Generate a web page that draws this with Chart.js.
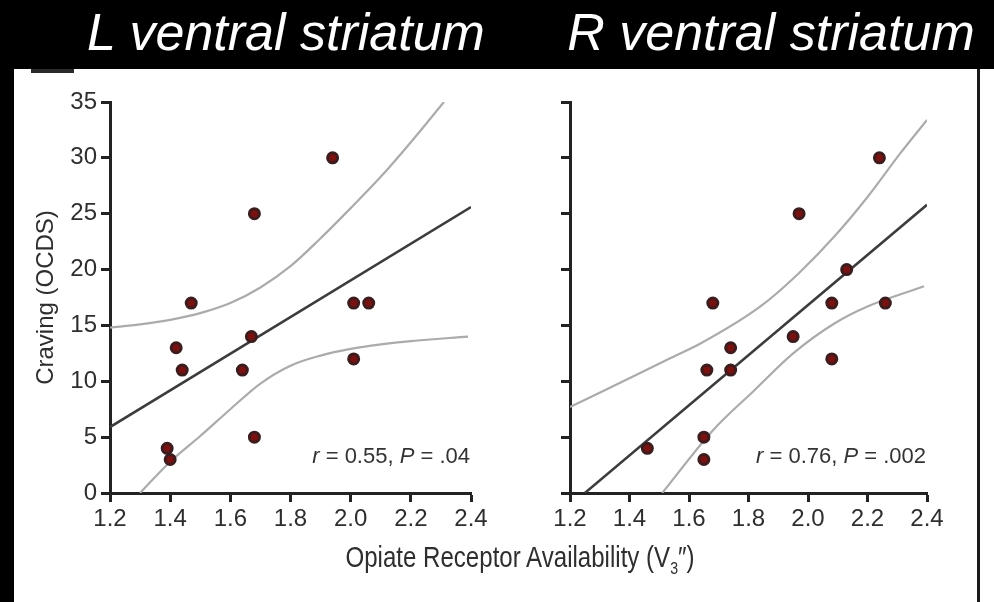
<!DOCTYPE html>
<html>
<head>
<meta charset="utf-8">
<script src="https://cdn.jsdelivr.net/npm/chart.js@4.4.1/dist/chart.umd.min.js"></script>
<style>
  body { margin: 0; background: #000; width: 994px; height: 602px; overflow: hidden; position: relative; }
  #panel { position: absolute; left: 14px; top: 69px; width: 980px; height: 533px; background: #fff; }
  .title { position: absolute; top: 6px; width: 460px; margin-left: -230px; text-align: center;
           font: italic 52px/52px 'Liberation Sans', Arial, sans-serif; color: #fff; white-space: nowrap; }
  #bar { position: absolute; left: 31px; top: 69px; width: 43px; height: 4px; background: #2a2a2a; }
  #edge { position: absolute; left: 977px; top: 69px; width: 3px; height: 533px; background: #1a1a1a; }
  .cv { position: absolute; top: 69px; height: 533px; }
  #xlabel { position: absolute; left: 520px; top: 560px; transform: translate(-50%, -50%) scaleX(0.83); white-space: nowrap;
            font: 29px 'Liberation Sans', Arial, sans-serif; color: #2e2e2e; }
  #xlabel sub { font-size: 17px; }
</style>
</head>
<body>
<div id="panel"></div>
<div id="bar"></div>
<div id="edge"></div>
<div class="title" style="left:286px">L ventral striatum</div>
<div class="title" style="left:771px">R ventral striatum</div>
<div class="cv" style="left:14px;width:483px"><canvas id="leftChart"></canvas></div>
<div class="cv" style="left:497px;width:480px"><canvas id="rightChart"></canvas></div>
<div id="xlabel">Opiate Receptor Availability (V<sub>3</sub>″)</div>
<script>
// Values

const xTicks = [1.2, 1.4, 1.6, 1.8, 2.0, 2.2, 2.4];
const yTicks = [0, 5, 10, 15, 20, 25, 30, 35];

// L ventral striatum
const leftX = [1.94, 1.68, 1.47, 2.01, 2.06, 1.42, 1.67, 1.44, 1.64, 2.01, 1.68, 1.39, 1.40];
const leftY = [30, 25, 17, 17, 17, 13, 14, 11, 11, 12, 5, 4, 3];
const leftFitX = [1.2, 2.4];
const leftFitY = [5.9, 25.6];
const leftUpperX = [1.2, 1.3, 1.4, 1.5, 1.6, 1.7, 1.8, 1.9, 2.0, 2.1, 2.2, 2.31];
const leftUpperY = [14.8, 15.1, 15.5, 16.1, 17.0, 18.4, 20.3, 22.8, 25.5, 28.3, 31.4, 35];
const leftLowerX = [1.3, 1.4, 1.5, 1.6, 1.7, 1.8, 1.9, 2.0, 2.1, 2.2, 2.39];
const leftLowerY = [0, 2.8, 5.1, 7.5, 9.8, 11.4, 12.3, 12.9, 13.3, 13.6, 14.0];

// R ventral striatum
const rightX = [2.24, 1.97, 2.13, 1.68, 2.08, 2.26, 1.95, 1.74, 1.66, 1.74, 2.08, 1.65, 1.65, 1.46];
const rightY = [30, 25, 20, 17, 17, 17, 14, 13, 11, 11, 12, 5, 3, 4];
const rightFitX = [1.25, 2.4];
const rightFitY = [0, 25.8];
const rightUpperX = [1.2, 1.41, 1.54, 1.64, 1.84, 1.97, 2.09, 2.2, 2.31, 2.4];
const rightUpperY = [7.7, 10.4, 12.1, 13.4, 16.7, 19.7, 23.0, 26.5, 30.4, 33.4];
const rightLowerX = [1.51, 1.68, 1.82, 1.95, 2.09, 2.2, 2.39];
const rightLowerY = [0, 5.6, 9.2, 12.5, 15.2, 16.7, 18.5];

const leftStats = [['r', true], [' = 0.55, ', false], ['P', true], [' = .04', false]];
const rightStats = [['r', true], [' = 0.76, ', false], ['P', true], [' = .002', false]];

const FONT = "'Liberation Sans', Arial, sans-serif";

function pts(xs, ys) {
    return xs.map((x, i) => ({ x: x, y: ys[i] }));
}

// draws the r / P note in the lower right corner of the plot area
const statsPlugin = {
    id: 'stats',
    afterDatasetsDraw(chart, args, opts) {
        const ctx = chart.ctx;
        const area = chart.chartArea;
        ctx.save();
        ctx.fillStyle = '#333';
        ctx.textBaseline = 'middle';
        let total = 0;
        opts.parts.forEach(p => {
            ctx.font = (p[1] ? 'italic ' : '') + '22px ' + FONT;
            total += ctx.measureText(p[0]).width;
        });
        let x = area.right - 1 - total;
        opts.parts.forEach(p => {
            ctx.font = (p[1] ? 'italic ' : '') + '22px ' + FONT;
            ctx.fillText(p[0], x, area.bottom - 36);
            x += ctx.measureText(p[0]).width;
        });
        ctx.restore();
    }
};

function makeChart(id, xs, ys, fitX, fitY, upX, upY, loX, loY, stats, showYLabels, pad, yWidth) {
    const lineBase = { type: 'line', pointRadius: 0, fill: false, order: 1, cubicInterpolationMode: 'monotone' };
    return new Chart(document.getElementById(id), {
        type: 'scatter',
        data: {
            datasets: [
                {
                    data: pts(xs, ys),
                    pointStyle: 'circle',
                    pointRadius: 5,
                    backgroundColor: '#7a1111',
                    borderColor: '#3d1c1e',
                    borderWidth: 3,
                    order: 0
                },
                Object.assign({ data: pts(fitX, fitY), borderColor: '#3c3c3c', borderWidth: 2.5 }, lineBase),
                Object.assign({ data: pts(upX, upY), borderColor: '#ababab', borderWidth: 2.2 }, lineBase),
                Object.assign({ data: pts(loX, loY), borderColor: '#ababab', borderWidth: 2.2 }, lineBase)
            ]
        },
        options: {
            responsive: true,
            maintainAspectRatio: false,
            animation: false,
            layout: { padding: pad },
            plugins: {
                legend: { display: false },
                tooltip: { enabled: false },
                stats: { parts: stats }
            },
            scales: {
                x: {
                    type: 'linear',
                    min: xTicks[0],
                    max: xTicks[xTicks.length - 1],
                    afterBuildTicks: s => { s.ticks = xTicks.map(v => ({ value: v })); },
                    afterFit: s => { s.height = 109; },
                    border: { display: true, color: '#222', width: 3 },
                    grid: { drawOnChartArea: false, drawTicks: true, tickLength: 9, tickWidth: 3, tickColor: '#222' },
                    ticks: {
                        padding: 3,
                        color: '#2e2e2e',
                        font: { family: FONT, size: 24 },
                        callback: v => Number(v).toFixed(1)
                    }
                },
                y: {
                    type: 'linear',
                    min: yTicks[0],
                    max: yTicks[yTicks.length - 1],
                    afterBuildTicks: s => { s.ticks = yTicks.map(v => ({ value: v })); },
                    afterFit: s => { s.width = yWidth; },
                    border: { display: true, color: '#222', width: 3 },
                    grid: { drawOnChartArea: false, drawTicks: true, tickLength: 9, tickWidth: 3, tickColor: '#222' },
                    title: {
                        display: showYLabels,
                        text: 'Craving (OCDS)',
                        color: '#2e2e2e',
                        padding: { top: 2, bottom: 0 },
                        font: { family: FONT, size: 24 }
                    },
                    ticks: {
                        padding: 4,
                        color: '#2e2e2e',
                        font: { family: FONT, size: 24 },
                        callback: v => showYLabels ? String(v) : ''
                    }
                }
            }
        },
        plugins: [statsPlugin]
    });
}

makeChart('leftChart', leftX, leftY, leftFitX, leftFitY, leftUpperX, leftUpperY, leftLowerX, leftLowerY,
    leftStats, true, { left: 16, right: 26, top: 33, bottom: 0 }, 80);
makeChart('rightChart', rightX, rightY, rightFitX, rightFitY, rightUpperX, rightUpperY, rightLowerX, rightLowerY,
    rightStats, false, { left: 0, right: 50, top: 33, bottom: 0 }, 73);
</script>
</body>
</html>
